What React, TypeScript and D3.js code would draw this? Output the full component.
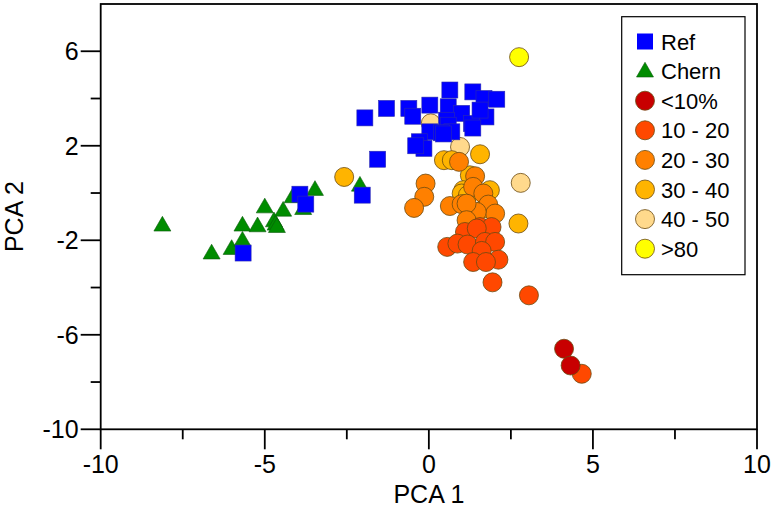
import React from "react";
import * as d3 from "d3";

type P = [number, number];

const refPts: P[] = [
  [-1.95, 3.18], [-1.29, 3.58], [-0.61, 3.58], [-0.49, 3.25], [0.03, 3.72], [0.64, 4.36],
  [1.34, 4.28], [1.68, 4.0], [2.07, 3.97], [0.59, 3.65], [1.0, 3.37], [0.54, 3.08],
  [1.74, 3.22], [1.3, 2.94], [1.34, 2.75], [0.59, 2.87], [0.7, 2.59], [0.03, 2.59],
  [0.39, 2.55], [-0.29, 2.17], [-0.15, 1.89], [-1.56, 1.43], [-3.93, -0.05], [-3.75, -0.47],
  [-2.03, -0.09], [-5.66, -2.54], [1.56, 3.51], [-0.4, 2.0], [0.45, 2.5],
];

const chernPts: P[] = [
  [-8.12, -1.36], [-6.62, -2.54], [-6.01, -2.35], [-5.68, -2.0], [-5.68, -1.36], [-5.22, -1.39],
  [-5.0, -0.59], [-4.72, -1.18], [-4.67, -1.32], [-4.63, -1.42], [-4.44, -0.73], [-4.15, -0.16],
  [-3.83, -0.66], [-3.47, 0.15], [-2.1, 0.33],
];

const lt10Pts: P[] = [[4.12, -6.59], [4.32, -7.3]];

const p10to20Pts: P[] = [
  [1.1, -1.65], [1.56, -1.44], [1.91, -1.44], [1.46, -1.5], [0.56, -2.28], [0.87, -2.14],
  [1.18, -2.18], [1.71, -2.07], [2.02, -2.07], [1.61, -2.45], [2.12, -2.82], [1.35, -2.92],
  [1.74, -2.92], [1.94, -3.78], [3.05, -4.33], [4.66, -7.65],
];

const p20to30Pts: P[] = [
  [0.92, 1.32], [-0.1, 0.4], [-0.14, -0.16], [-0.45, -0.63], [1.41, 0.71], [1.35, 0.26],
  [0.64, -0.55], [1.0, -0.47], [1.66, -0.02], [1.81, -0.49], [2.02, -0.87], [1.46, -0.8],
  [1.15, -0.45], [1.15, -1.15],
];

const p30to40Pts: P[] = [
  [1.56, 1.64], [0.46, 1.39], [0.7, 1.39], [1.25, 0.75], [1.05, 0.12], [1.0, -0.02],
  [1.86, 0.12], [2.73, -1.29], [-2.58, 0.68], [1.19, -0.09], [1.71, -0.65],
];

const p40to50Pts: P[] = [[2.8, 0.43], [0.06, 2.95], [0.95, 1.95]];

const gt80Pts: P[] = [[2.75, 5.75]];

const xMajorTicks = [-10, -5, 0, 5, 10];
const xMinorTicks = [-7.5, -2.5, 2.5, 7.5];
const yMajorTicks = [6, 2, -2, -6, -10];
const yMinorTicks = [4, 0, -4, -8];

const legendLabels = ["Ref", "Chern", "<10%", "10 - 20", "20 - 30", "30 - 40", "40 - 50", ">80"];

const circleGroups: { pts: P[]; color: string }[] = [
  { pts: gt80Pts, color: "#FFFF00" },
  { pts: p40to50Pts, color: "#FFD98C" },
  { pts: p30to40Pts, color: "#FFB400" },
  { pts: p20to30Pts, color: "#FF8000" },
  { pts: p10to20Pts, color: "#FF4800" },
  { pts: lt10Pts, color: "#C80000" },
];

const legendColors = ["#0000FF", "#008C00", "#C80000", "#FF4800", "#FF8000", "#FFB400", "#FFD98C", "#FFFF00"];

const FONT = "Liberation Sans, Arial, sans-serif";

export default function App() {
  const W = 777, H = 510;
  const left = 100.7, right = 757, top = 4, bottom = 429.3;
  const x = d3.scaleLinear().domain([-10, 10]).range([left, right]);
  const y = d3.scaleLinear().domain([-10, 8]).range([bottom, top]);
  const R = 9.5;
  const S = 16;
  const tri = d3.symbol().type(d3.symbolTriangle).size(125)();
  const circleStroke = "#6b4a10";

  const legendX = 645;
  const legendY0 = 41.5;
  const legendDy = 29.6;

  return (
    <svg width={W} height={H} style={{ position: "absolute", left: 0, top: 0, background: "#fff" }}>
      {circleGroups.map((g, gi) =>
        g.pts.map((p, i) => (
          <circle key={`c${gi}-${i}`} cx={x(p[0])} cy={y(p[1])} r={R} fill={g.color} stroke={circleStroke} strokeWidth={0.8} />
        ))
      )}
      {chernPts.map((p, i) => (
        <path key={`t${i}`} d={tri!} transform={`translate(${x(p[0])},${y(p[1]) + 1})`} fill="#008C00" stroke="#0a5a0a" strokeWidth={0.6} />
      ))}
      {refPts.map((p, i) => (
        <rect key={`s${i}`} x={x(p[0]) - S / 2} y={y(p[1]) - S / 2} width={S} height={S} fill="#0000FF" stroke="#2a2ab0" strokeWidth={0.6} />
      ))}

      <rect x={left} y={top} width={right - left} height={bottom - top} fill="none" stroke="#000" strokeWidth={1.8} />

      {xMajorTicks.map((t) => (
        <g key={`xm${t}`}>
          <line x1={x(t)} x2={x(t)} y1={bottom} y2={bottom + 20} stroke="#000" strokeWidth={1.8} />
          <text x={x(t)} y={bottom + 44} textAnchor="middle" fontFamily={FONT} fontSize={25} fill="#000">{t}</text>
        </g>
      ))}
      {xMinorTicks.map((t) => (
        <line key={`xn${t}`} x1={x(t)} x2={x(t)} y1={bottom} y2={bottom + 10} stroke="#000" strokeWidth={1.8} />
      ))}
      {yMajorTicks.map((t) => (
        <g key={`ym${t}`}>
          <line x1={left - 20} x2={left} y1={y(t)} y2={y(t)} stroke="#000" strokeWidth={1.8} />
          <text x={left - 22} y={y(t) + 9} textAnchor="end" fontFamily={FONT} fontSize={25} fill="#000">{t}</text>
        </g>
      ))}
      {yMinorTicks.map((t) => (
        <line key={`yn${t}`} x1={left - 10} x2={left} y1={y(t)} y2={y(t)} stroke="#000" strokeWidth={1.8} />
      ))}

      <text x={(left + right) / 2} y={503} textAnchor="middle" fontFamily={FONT} fontSize={25} fill="#000">PCA 1</text>
      <text transform={`translate(${23},${(top + bottom) / 2}) rotate(-90)`} textAnchor="middle" fontFamily={FONT} fontSize={25} fill="#000">PCA 2</text>

      <rect x={621.7} y={16.7} width={123.3} height={258} fill="#fff" stroke="#000" strokeWidth={1.2} />
      {legendLabels.map((lab, i) => {
        const cy = legendY0 + i * legendDy;
        let marker;
        if (i === 0) marker = <rect x={legendX - 8} y={cy - 8} width={16} height={16} fill={legendColors[i]} />;
        else if (i === 1) marker = <path d={tri!} transform={`translate(${legendX},${cy + 1})`} fill={legendColors[i]} stroke="#0a5a0a" strokeWidth={0.6} />;
        else marker = <circle cx={legendX} cy={cy} r={R} fill={legendColors[i]} stroke={circleStroke} strokeWidth={0.8} />;
        return (
          <g key={`lg${i}`}>
            {marker}
            <text x={661} y={cy + 8} fontFamily={FONT} fontSize={22} fill="#000">{lab}</text>
          </g>
        );
      })}
    </svg>
  );
}
